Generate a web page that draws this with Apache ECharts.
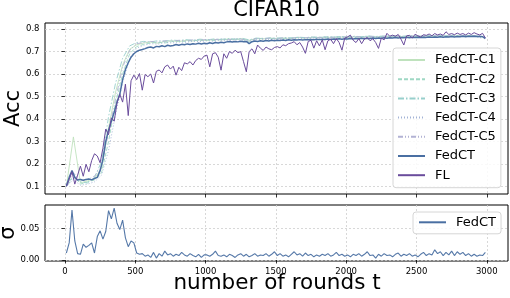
<!DOCTYPE html>
<html><head><meta charset="utf-8">
<script src="https://cdn.jsdelivr.net/npm/echarts@6/dist/echarts.min.js"></script>
<style>html,body{margin:0;padding:0;background:#fff}#c{width:510px;height:298px}</style>
</head><body><div id="c"></div>
<script>
// ---------------- data ----------------
const chartTitle = 'CIFAR10';
const xTicks = [0, 500, 1000, 1500, 2000, 2500, 3000];
const accTicks = [0.1, 0.2, 0.3, 0.4, 0.5, 0.6, 0.7, 0.8];
const sigmaTicks = [0, 0.05];

// sampling grid (rounds) for the main series: 10, 30, ..., 2990
const rounds = Array.from({length: 150}, (_, i) => 10 + 20 * i);
// sampling grid for the client curves: 10, 60, ..., 2960
const clientRounds = Array.from({length: 60}, (_, i) => 10 + 50 * i);

const fedct = [
  0.103, 0.140, 0.170, 0.140, 0.128, 0.131, 0.127, 0.131, 0.133, 0.129,
  0.135, 0.140, 0.170, 0.220, 0.300, 0.350, 0.390, 0.430, 0.475, 0.510,
  0.575, 0.620, 0.650, 0.675, 0.690, 0.700, 0.706, 0.709, 0.713, 0.718,
  0.720, 0.716, 0.723, 0.721, 0.726, 0.722, 0.728, 0.725, 0.727, 0.731,
  0.728, 0.732, 0.730, 0.734, 0.731, 0.735, 0.733, 0.737, 0.734, 0.737,
  0.735, 0.739, 0.736, 0.740, 0.738, 0.741, 0.739, 0.743, 0.745, 0.742,
  0.745, 0.743, 0.746, 0.744, 0.745, 0.735, 0.744, 0.747, 0.745, 0.748,
  0.746, 0.749, 0.747, 0.750, 0.748, 0.750, 0.749, 0.751, 0.749, 0.752,
  0.750, 0.752, 0.751, 0.753, 0.751, 0.753, 0.752, 0.754, 0.752, 0.755,
  0.753, 0.755, 0.754, 0.756, 0.754, 0.756, 0.755, 0.757, 0.755, 0.757,
  0.756, 0.758, 0.756, 0.758, 0.757, 0.759, 0.757, 0.759, 0.758, 0.760,
  0.758, 0.760, 0.759, 0.761, 0.759, 0.761, 0.760, 0.762, 0.760, 0.762,
  0.761, 0.763, 0.761, 0.763, 0.762, 0.764, 0.762, 0.764, 0.763, 0.765,
  0.763, 0.765, 0.764, 0.766, 0.764, 0.766, 0.765, 0.767, 0.765, 0.767,
  0.766, 0.768, 0.766, 0.768, 0.767, 0.768, 0.767, 0.768, 0.766, 0.758
];

const fl = [
  0.100, 0.130, 0.165, 0.110, 0.150, 0.190, 0.145, 0.198, 0.165, 0.215,
  0.245, 0.235, 0.205, 0.270, 0.355, 0.330, 0.405, 0.390, 0.470, 0.510,
  0.475, 0.555, 0.415, 0.570, 0.595, 0.575, 0.602, 0.528, 0.598, 0.588,
  0.600, 0.560, 0.612, 0.618, 0.605, 0.632, 0.640, 0.622, 0.635, 0.595,
  0.630, 0.615, 0.650, 0.645, 0.655, 0.640, 0.660, 0.670, 0.665, 0.680,
  0.684, 0.632, 0.690, 0.695, 0.675, 0.617, 0.690, 0.670, 0.700, 0.692,
  0.706, 0.695, 0.700, 0.655, 0.610, 0.700, 0.712, 0.690, 0.729, 0.715,
  0.705, 0.720, 0.712, 0.708, 0.718, 0.722, 0.716, 0.730, 0.726, 0.735,
  0.738, 0.744, 0.730, 0.740, 0.720, 0.692, 0.745, 0.750, 0.715, 0.748,
  0.725, 0.752, 0.708, 0.748, 0.755, 0.735, 0.758, 0.740, 0.706, 0.760,
  0.765, 0.773, 0.750, 0.740, 0.758, 0.735, 0.756, 0.762, 0.748, 0.757,
  0.740, 0.714, 0.760, 0.752, 0.781, 0.768, 0.773, 0.768, 0.776, 0.755,
  0.729, 0.770, 0.772, 0.760, 0.777, 0.770, 0.765, 0.775, 0.772, 0.778,
  0.770, 0.780, 0.774, 0.778, 0.772, 0.788, 0.776, 0.780, 0.775, 0.782,
  0.776, 0.780, 0.774, 0.782, 0.776, 0.784, 0.778, 0.774, 0.781, 0.760
];

const sigma = [
  0.011, 0.027, 0.079, 0.030, 0.010, 0.009, 0.025, 0.020, 0.023, 0.027,
  0.011, 0.037, 0.046, 0.033, 0.045, 0.078, 0.065, 0.082, 0.058, 0.048,
  0.063, 0.035, 0.021, 0.030, 0.027, 0.011, 0.009, 0.010, 0.006, 0.008,
  0.004, 0.012, 0.003, 0.010, 0.006, 0.014, 0.008, 0.010, 0.006, 0.009,
  0.007, 0.012, 0.008, 0.006, 0.010, 0.007, 0.005, 0.009, 0.004, 0.008,
  0.008, 0.006, 0.009, 0.014, 0.007, 0.006, 0.008, 0.005, 0.009, 0.007,
  0.004, 0.008, 0.010, 0.006, 0.009, 0.005, 0.007, 0.010, 0.006, 0.008,
  0.007, 0.010, 0.006, 0.009, 0.013, 0.007, 0.010, 0.006, 0.008, 0.005,
  0.009, 0.013, 0.008, 0.010, 0.006, 0.011, 0.007, 0.009, 0.005, 0.008,
  0.006, 0.009, 0.007, 0.010, 0.006, 0.008, 0.012, 0.007, 0.009, 0.006,
  0.008, 0.005, 0.009, 0.007, 0.010, 0.006, 0.009, 0.013, 0.007, 0.008,
  0.003, 0.009, 0.006, 0.010, 0.007, 0.008, 0.005, 0.009, 0.011, 0.006,
  0.009, 0.007, 0.010, 0.006, 0.008, 0.005, 0.009, 0.012, 0.007, 0.010,
  0.008, 0.016, 0.010, 0.013, 0.007, 0.012, 0.008, 0.014, 0.007, 0.013,
  0.009, 0.012, 0.007, 0.010, 0.006, 0.009, 0.006, 0.008, 0.007, 0.012
];

const client1 = [
  0.100, 0.320, 0.115, 0.125, 0.135, 0.180, 0.360, 0.520, 0.640, 0.710,
  0.730, 0.738, 0.742, 0.737, 0.745, 0.748, 0.744, 0.750, 0.747, 0.752,
  0.749, 0.754, 0.751, 0.756, 0.753, 0.757, 0.750, 0.758, 0.756, 0.759,
  0.757, 0.760, 0.758, 0.762, 0.760, 0.763, 0.761, 0.764, 0.762, 0.765,
  0.763, 0.766, 0.764, 0.767, 0.765, 0.767, 0.766, 0.768, 0.766, 0.769,
  0.767, 0.769, 0.768, 0.770, 0.768, 0.771, 0.769, 0.771, 0.770, 0.765
];
const client2 = [
  0.100, 0.150, 0.110, 0.120, 0.128, 0.160, 0.300, 0.470, 0.600, 0.690,
  0.722, 0.732, 0.738, 0.741, 0.738, 0.744, 0.747, 0.745, 0.750, 0.748,
  0.752, 0.749, 0.755, 0.752, 0.756, 0.754, 0.745, 0.757, 0.759, 0.757,
  0.760, 0.758, 0.761, 0.763, 0.760, 0.762, 0.764, 0.762, 0.765, 0.763,
  0.765, 0.764, 0.766, 0.768, 0.765, 0.767, 0.769, 0.766, 0.768, 0.767,
  0.769, 0.768, 0.770, 0.768, 0.771, 0.769, 0.770, 0.772, 0.769, 0.762
];
const client3 = [
  0.100, 0.140, 0.120, 0.115, 0.140, 0.210, 0.410, 0.560, 0.670, 0.725,
  0.740, 0.745, 0.743, 0.748, 0.746, 0.751, 0.749, 0.753, 0.750, 0.755,
  0.752, 0.756, 0.754, 0.758, 0.755, 0.759, 0.752, 0.760, 0.758, 0.761,
  0.759, 0.762, 0.760, 0.764, 0.762, 0.765, 0.763, 0.766, 0.764, 0.767,
  0.765, 0.768, 0.766, 0.769, 0.767, 0.769, 0.768, 0.770, 0.768, 0.771,
  0.769, 0.771, 0.770, 0.772, 0.770, 0.773, 0.771, 0.772, 0.771, 0.766
];
const client4 = [
  0.100, 0.130, 0.105, 0.110, 0.120, 0.150, 0.260, 0.420, 0.560, 0.670,
  0.715, 0.728, 0.735, 0.733, 0.740, 0.738, 0.743, 0.741, 0.746, 0.744,
  0.748, 0.746, 0.750, 0.748, 0.752, 0.750, 0.742, 0.753, 0.755, 0.753,
  0.756, 0.754, 0.757, 0.759, 0.757, 0.760, 0.758, 0.761, 0.759, 0.762,
  0.760, 0.763, 0.761, 0.764, 0.762, 0.765, 0.763, 0.766, 0.764, 0.766,
  0.765, 0.767, 0.766, 0.768, 0.766, 0.768, 0.767, 0.769, 0.768, 0.760
];
const client5 = [
  0.100, 0.160, 0.125, 0.130, 0.145, 0.190, 0.340, 0.490, 0.630, 0.705,
  0.735, 0.740, 0.745, 0.742, 0.748, 0.746, 0.750, 0.748, 0.752, 0.750,
  0.754, 0.752, 0.756, 0.753, 0.757, 0.755, 0.748, 0.758, 0.757, 0.760,
  0.758, 0.761, 0.759, 0.763, 0.761, 0.764, 0.762, 0.765, 0.763, 0.766,
  0.764, 0.767, 0.765, 0.768, 0.766, 0.768, 0.767, 0.769, 0.767, 0.770,
  0.768, 0.770, 0.769, 0.771, 0.769, 0.772, 0.770, 0.771, 0.770, 0.764
];

// ---------------- chart ----------------
const FONT = 'DejaVu Sans';
const zip = (xs, ys) => ys.map((v, i) => [xs[i], v]);

const clientDefs = [
  {name: 'FedCT-C1', data: client1, color: '#bfe2bd', type: 'solid'},
  {name: 'FedCT-C2', data: client2, color: '#9fd8c4', type: [4, 2]},
  {name: 'FedCT-C3', data: client3, color: '#98cfcc', type: [6, 2, 1.5, 2]},
  {name: 'FedCT-C4', data: client4, color: '#a3b3d6', type: [1, 2]},
  {name: 'FedCT-C5', data: client5, color: '#b2b2d4', type: [5, 2, 1, 2, 1, 2]}
];

const gridLine = {show: true, lineStyle: {color: '#cfcfcf', type: [2, 2], width: 0.8}};
const tickStyle = {show: true, length: 3.5, lineStyle: {color: '#000', width: 0.8}};
const lblStyle = {fontFamily: FONT, fontSize: 8.5, color: '#000'};

const series = clientDefs.map(c => ({
  name: c.name, type: 'line', xAxisIndex: 0, yAxisIndex: 0,
  data: zip(clientRounds, c.data), symbol: 'none', silent: true,
  lineStyle: {color: c.color, width: 0.9, type: c.type},
  itemStyle: {color: c.color}
}));
series.push({
  name: 'FedCT', type: 'line', xAxisIndex: 0, yAxisIndex: 0,
  data: zip(rounds, fedct), symbol: 'none',
  lineStyle: {color: '#4a6fa2', width: 1.5}, itemStyle: {color: '#4a6fa2'}
});
series.push({
  name: 'FL', type: 'line', xAxisIndex: 0, yAxisIndex: 0,
  data: zip(rounds, fl), symbol: 'none',
  lineStyle: {color: '#6a4c9c', width: 1}, itemStyle: {color: '#6a4c9c'}
});
series.push({
  name: 'FedCT', type: 'line', xAxisIndex: 1, yAxisIndex: 1,
  data: zip(rounds, sigma), symbol: 'none',
  lineStyle: {color: '#5578a8', width: 1.1}, itemStyle: {color: '#5578a8'}
});

const legendCommon = {
  orient: 'vertical', itemWidth: 27, itemHeight: 13, itemGap: 6.2,
  itemStyle: {opacity: 0, borderWidth: 0},
  textStyle: {fontFamily: FONT, fontSize: 13, color: '#000', padding: [0, 0, 0, 5]},
  backgroundColor: 'rgba(255,255,255,0.85)', borderColor: '#d6d6d6', borderWidth: 1,
  borderRadius: 3, selectedMode: false
};

const option = {
  animation: false,
  backgroundColor: '#fff',
  grid: [
    {left: 45, top: 23, width: 463, height: 171, show: true, borderColor: '#000', borderWidth: 1, backgroundColor: 'transparent'},
    {left: 45, top: 205, width: 463, height: 56, show: true, borderColor: '#000', borderWidth: 1, backgroundColor: 'transparent'}
  ],
  xAxis: [
    {type: 'value', gridIndex: 0, min: -142, max: 3151,
     axisLine: {show: false}, axisTick: Object.assign({customValues: xTicks}, tickStyle),
     axisLabel: {show: false, customValues: xTicks}, splitLine: gridLine},
    {type: 'value', gridIndex: 1, min: -142, max: 3151,
     axisLine: {show: false}, axisTick: Object.assign({customValues: xTicks}, tickStyle),
     axisLabel: Object.assign({customValues: xTicks, margin: 6, formatter: v => String(v)}, lblStyle),
     splitLine: gridLine}
  ],
  yAxis: [
    {type: 'value', gridIndex: 0, min: 0.066, max: 0.827,
     axisLine: {show: false}, axisTick: Object.assign({customValues: accTicks}, tickStyle),
     axisLabel: Object.assign({customValues: accTicks, margin: 5.5, formatter: v => v.toFixed(1)}, lblStyle),
     splitLine: gridLine},
    {type: 'value', gridIndex: 1, min: -0.0016, max: 0.0868,
     axisLine: {show: false}, axisTick: Object.assign({customValues: sigmaTicks}, tickStyle),
     axisLabel: Object.assign({customValues: sigmaTicks, margin: 5.5, formatter: v => v.toFixed(2)}, lblStyle),
     splitLine: gridLine}
  ],
  legend: [
    Object.assign({left: 393, top: 48, padding: [5.5, 5, 6, 4],
      data: ['FedCT-C1', 'FedCT-C2', 'FedCT-C3', 'FedCT-C4', 'FedCT-C5', 'FedCT', 'FL']}, legendCommon),
    Object.assign({left: 413, top: 212, padding: [3.8, 5, 5, 5], data: ['FedCT']}, legendCommon)
  ],
  series: series,
  graphic: [
    {type: 'text', x: 276.5, y: 11, style: {text: chartTitle, font: '21px "DejaVu Sans"', fill: '#000', textAlign: 'center', textVerticalAlign: 'middle'}},
    {type: 'text', x: 13.5, y: 108.5, rotation: Math.PI / 2, style: {text: 'Acc', font: '21px "DejaVu Sans"', fill: '#000', textAlign: 'center', textVerticalAlign: 'middle'}},
    {type: 'text', x: 9, y: 233, rotation: Math.PI / 2, style: {text: 'σ', font: '21px "DejaVu Sans"', fill: '#000', textAlign: 'center', textVerticalAlign: 'middle'}},
    {type: 'text', x: 277, y: 283, style: {text: 'number of rounds t', font: '21.5px "DejaVu Sans"', fill: '#000', textAlign: 'center', textVerticalAlign: 'middle'}}
  ]
};

const chart = echarts.init(document.getElementById('c'), null, {renderer: 'canvas'});
chart.setOption(option);
</script></body></html>
